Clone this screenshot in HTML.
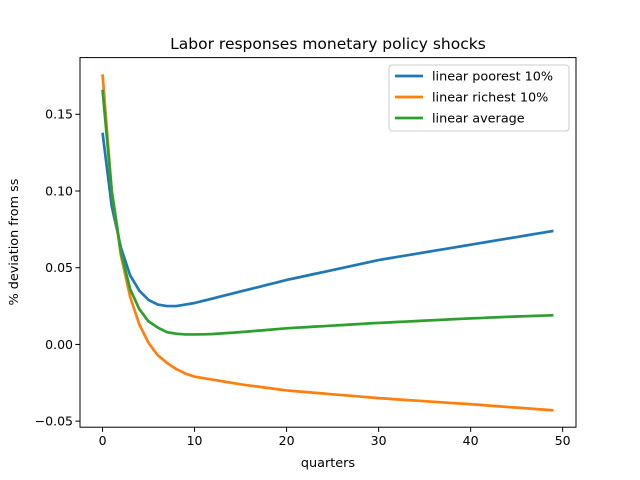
<!DOCTYPE html>
<html><head><meta charset="utf-8"><style>
body{margin:0;background:#fff}
svg{display:block;font-family:"DejaVu Sans","Liberation Sans",sans-serif}
</style></head><body>
<svg id="chart" width="640" height="480">
<rect width="640" height="480" fill="#fff"/>
<text x="328" y="49" font-size="15.5" text-anchor="middle">Labor responses monetary policy shocks</text>
<g id="plot"></g>
<text x="328" y="467" font-size="12.8" text-anchor="middle">quarters</text>
<text transform="translate(18,242) rotate(-90)" font-size="12.8" text-anchor="middle">% deviation from ss</text>
<g id="legend"></g>
</svg>
<script>
const seriesNames=["linear poorest 10%","linear richest 10%","linear average"];
const seriesColors=["#1f77b4","#ff7f0e","#2ca02c"];
const poorest=[0.138,0.090,0.063,0.045,0.035,0.029,0.026,0.025,0.025,0.026,0.027,0.0285,0.030,0.0315,0.033,0.0345,0.036,0.0375,0.039,0.0405,0.042,0.0433,0.0446,0.0459,0.0472,0.0485,0.0498,0.0511,0.0524,0.0537,0.055,0.056,0.057,0.058,0.059,0.060,0.061,0.062,0.063,0.064,0.065,0.066,0.067,0.068,0.069,0.070,0.071,0.072,0.073,0.074];
const richest=[0.176,0.100,0.058,0.031,0.013,0.001,-0.007,-0.012,-0.016,-0.019,-0.021,-0.022,-0.023,-0.024,-0.025,-0.026,-0.0268,-0.0276,-0.0284,-0.0292,-0.030,-0.0305,-0.031,-0.0315,-0.032,-0.0325,-0.033,-0.0335,-0.034,-0.0345,-0.035,-0.0354,-0.0358,-0.0362,-0.0366,-0.037,-0.0374,-0.0378,-0.0382,-0.0386,-0.039,-0.0394,-0.0399,-0.0403,-0.0408,-0.0412,-0.0416,-0.0421,-0.0425,-0.043];
const average=[0.166,0.100,0.060,0.036,0.023,0.015,0.011,0.008,0.007,0.0065,0.0065,0.0066,0.0068,0.0072,0.0076,0.008,0.0085,0.009,0.0095,0.010,0.0105,0.0109,0.0112,0.0116,0.0119,0.0123,0.0126,0.013,0.0133,0.0137,0.014,0.0143,0.0146,0.0149,0.0152,0.0155,0.0158,0.0161,0.0164,0.0167,0.017,0.0172,0.0175,0.0177,0.018,0.0182,0.0184,0.0186,0.0188,0.019];
const xTicks=[0,10,20,30,40,50];
const yTicks=[-0.05,0.00,0.05,0.10,0.15];
const yTickLabels=["−0.05","0.00","0.05","0.10","0.15"];

const NS="http://www.w3.org/2000/svg";
const L=80,R=576,T=57.6,B=427.2;
const all=[poorest,richest,average];
const n=poorest.length;
const xmin=-0.05*(n-1),xmax=(n-1)*1.05;
let lo=Math.min(...all.flat()),hi=Math.max(...all.flat());
const ym=(hi-lo)*0.05;const ymin=lo-ym,ymax=hi+ym;
const sx=v=>L+(v-xmin)/(xmax-xmin)*(R-L);
const sy=v=>B-(v-ymin)/(ymax-ymin)*(B-T);
const plot=document.getElementById('plot');
function mk(tag,attrs,parent){const e=document.createElementNS(NS,tag);for(const k in attrs)e.setAttribute(k,attrs[k]);parent.appendChild(e);return e;}
all.forEach((s,i)=>{
  const p=mk('polyline',{points:s.map((v,j)=>sx(j)+','+sy(v)).join(' '),fill:'none',stroke:seriesColors[i],'stroke-width':2.7,'stroke-linejoin':'round'},plot);
  
  
});
const frame=mk('rect',{x:L,y:T,width:R-L,height:B-T,fill:'none',stroke:'#000','stroke-width':1},plot);


xTicks.forEach(t=>{
  const x=sx(t);
  const tk=mk('line',{x1:x,x2:x,y1:B,y2:B+4.7,stroke:'#000'},plot);
  
  
  const tx=mk('text',{x:x,y:B+18,'font-size':12.5,'text-anchor':'middle'},plot);
  tx.textContent=t;
  
  
});
yTicks.forEach((t,i)=>{
  const y=sy(t);
  const tk=mk('line',{x1:L-4.7,x2:L,y1:y,y2:y,stroke:'#000'},plot);
  
  
  const tx=mk('text',{x:L-7,y:y+4.4,'font-size':12.5,'text-anchor':'end'},plot);
  tx.textContent=yTickLabels[i];
  
  
});
const lg=document.getElementById('legend');
const box=mk('rect',{x:389,y:65,width:180,height:66,rx:3,fill:'#fff',stroke:'#ccc'},lg);


seriesNames.forEach((nm,i)=>{
  const y=76+i*21;
  const ln=mk('line',{x1:395,x2:423,y1:y,y2:y,stroke:seriesColors[i],'stroke-width':2.7},lg);
  
  
  const tx=mk('text',{x:432,y:y+4.6,'font-size':12.8},lg);
  tx.textContent=nm;
  
  
});
</script>
</body></html>
